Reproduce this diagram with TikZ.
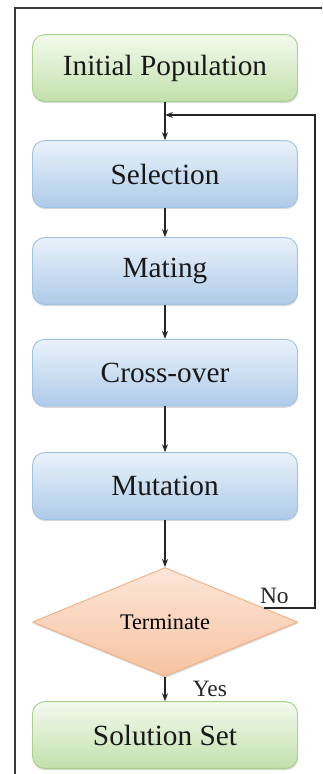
\documentclass[tikz,border=0pt]{standalone}
\usepackage{fontspec}
\setmainfont{Liberation Serif}
\usetikzlibrary{
  positioning,
  arrows.meta,
  shapes.geometric,
  shadows
}
\definecolor{leaf}{HTML}{A9D18E}
\definecolor{leaflight}{HTML}{F3FAEE}
\definecolor{leafdark}{HTML}{C2E0AC}
\definecolor{sky}{HTML}{9DC3E6}
\definecolor{skylight}{HTML}{EAF2FA}
\definecolor{skydark}{HTML}{AECBE9}
\definecolor{peach}{HTML}{F4B183}
\definecolor{peachlight}{HTML}{FCE6D8}
\definecolor{peachdark}{HTML}{F7C3A2}
\definecolor{framegray}{HTML}{3A3A3A}

\begin{document}
\begin{tikzpicture}[
  box/.style={draw, rounded corners=0.36cm, minimum height=2cm, minimum width=7.95cm,
              inner sep=0pt, line width=0.8pt, font=\rmfamily\fontsize{25}{30}\selectfont,
              text=black!90,
              drop shadow={shadow xshift=0.5pt, shadow yshift=-1.5pt, opacity=0.3}},
  popbox/.style={box, draw=leaf, top color=leaflight, bottom color=leafdark},
  stepbox/.style={box, draw=sky, top color=skylight, bottom color=skydark},
  decision/.style={diamond, draw=peach, line width=0.8pt, top color=peachlight,
                   bottom color=peachdark, minimum width=7.95cm, minimum height=3.27cm,
                   aspect=2.43, inner sep=0pt, font=\rmfamily\fontsize{19}{23}\selectfont,
                   drop shadow={shadow xshift=0.5pt, shadow yshift=-1.5pt, opacity=0.3}},
  arr/.style={-{Stealth[length=2.4mm, width=1.8mm]}, line width=1pt, black!85},
  lbl/.style={font=\rmfamily\fontsize{20}{24}\selectfont}
]
  \useasboundingbox (0,0) rectangle (9.66,-23.22);

  % Frame
  \draw[framegray, line width=1.2pt] (0.45,-23.22) |- (9.66,-0.24);

  % Boxes
  \node[popbox] (init) at (4.95,-2.04) {Initial Population};
  \node[stepbox] (sel) at (4.95,-5.22) {Selection};
  \node[stepbox] (mate) at (4.95,-8.13) {Mating};
  \node[stepbox] (cross) at (4.95,-11.18) {Cross-over};
  \node[stepbox] (mut) at (4.95,-14.58) {Mutation};
  \node[decision] (term) at (4.95,-18.66) {Terminate};
  \node[popbox] (sol) at (4.95,-22.05) {Solution Set};

  % Flow
  \draw[arr] (init) -- (sel);
  \draw[arr] (sel) -- (mate);
  \draw[arr] (mate) -- (cross);
  \draw[arr] (cross) -- (mut);
  \draw[arr] (mut) -- (term);
  \draw[arr] (term) -- node[lbl, right=0.7cm] {Yes} (sol);

  % Loop back
  \coordinate (loop) at (4.95,-3.45);
  \coordinate (back) at (9.45,-3.45);
  \draw[arr] (term.8) -- node[lbl, pos=0.2, above] {No} (term.8 -| back)
    -- (back) -- (loop);
\end{tikzpicture}
\end{document}
